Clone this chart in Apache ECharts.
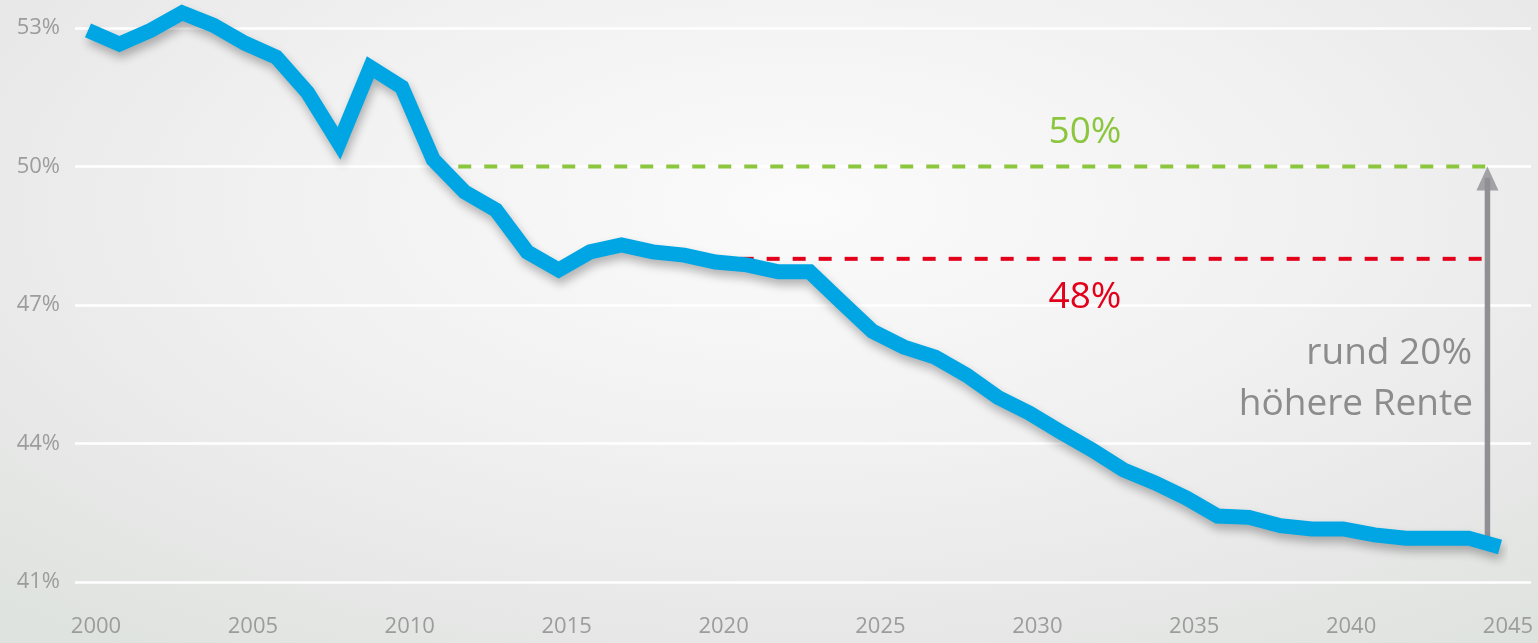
<!DOCTYPE html>
<html lang="de">
<head>
<meta charset="utf-8">
<title>Rentenniveau 2000–2045</title>
<script src="https://cdn.jsdelivr.net/npm/echarts@6/dist/echarts.min.js"></script>
<style>
  html, body { margin: 0; padding: 0; }
  body {
    width: 1538px; height: 643px; overflow: hidden;
    background: radial-gradient(ellipse 75% 85% at 52% 32%, #fbfbfb 0%, #f1f1f1 45%, #e6e7e6 80%, #dfe3df 100%);
  }
  #chart { width: 1538px; height: 643px; }
</style>
</head>
<body>
<div id="chart"></div>
<script>
// Rentenniveau (Sicherungsniveau vor Steuern) in Prozent, 2000–2045
const years = [
  2000, 2001, 2002, 2003, 2004, 2005, 2006, 2007, 2008, 2009,
  2010, 2011, 2012, 2013, 2014, 2015, 2016, 2017, 2018, 2019,
  2020, 2021, 2022, 2023, 2024, 2025, 2026, 2027, 2028, 2029,
  2030, 2031, 2032, 2033, 2034, 2035, 2036, 2037, 2038, 2039,
  2040, 2041, 2042, 2043, 2044, 2045
];
const pensionLevel = [
  52.95, 52.65, 52.95, 53.33, 53.06, 52.67, 52.37, 51.60, 50.50, 52.15,
  51.72, 50.15, 49.45, 49.06, 48.15, 47.76, 48.15, 48.30, 48.15, 48.08,
  47.93, 47.87, 47.72, 47.72, 47.07, 46.43, 46.09, 45.87, 45.48, 45.00,
  44.66, 44.25, 43.86, 43.43, 43.15, 42.82, 42.43, 42.40, 42.22, 42.15,
  42.15, 42.02, 41.95, 41.95, 41.95, 41.76
];

// Axis ranges and tick steps
const yearTicks = { min: 2000, max: 2045, step: 5 };
const percentTicks = { min: 41, max: 53, step: 3 };

// Haltelinien: 50 % (grün) und 48 % (rot)
const targetGreenLevel = 50;
const targetGreenYears = [2011.8, 2044.6];
const targetRedLevel = 48;
const targetRedYears = [2020.8, 2044.6];

// Pfeil "rund 20% höhere Rente": vom Endniveau bis zur 50-%-Linie
const arrowYear = 2044.6;
const arrowFrom = 41.95;
const arrowShaftTop = 49.75;
const arrowTip = 50;

// Beschriftungen
const labelGreen = '50%';
const labelRed = '48%';
const labelArrow = ['rund 20%', 'höhere Rente'];

const FONT = '"Open Sans", "Noto Sans", sans-serif';
const BLUE = '#00a6e4';
const GREEN = '#8cc63f';
const RED = '#e3001b';
const ARROW_GREY = '#8f8f94';
const TEXT_GREY = '#8c8c8c';
const AXIS_GREY = '#9c9c9c';

const chart = echarts.init(document.getElementById('chart'), null, { renderer: 'canvas' });

const toPairs = (xs, level) => xs.map(x => [x, level]);

// Free-standing annotation text, drawn on top of everything else
const note = (text, x, y, color, align) => ({
  type: 'text', x: x, y: y, z: 100, zlevel: 1, silent: true,
  style: {
    text: text, fill: color, font: '37px ' + FONT,
    align: align, verticalAlign: 'middle'
  }
});

chart.setOption({
  backgroundColor: 'transparent',
  animation: false,
  grid: [
    // plotting area for the series
    { left: 88, right: 38, top: 28, bottom: 61 },
    // wider area that carries the horizontal guide lines and percent labels
    { left: 75, right: 7, top: 28, bottom: 61 }
  ],
  xAxis: [
    {
      type: 'value', gridIndex: 0,
      min: yearTicks.min, max: yearTicks.max, interval: yearTicks.step,
      axisLine: { show: false }, axisTick: { show: false }, splitLine: { show: false },
      axisLabel: {
        color: AXIS_GREY, fontFamily: FONT, fontSize: 22, margin: 34,
        padding: [0, 0, 0, 16],
        formatter: v => String(v)
      }
    },
    {
      type: 'value', gridIndex: 1, min: 0, max: 1, show: false
    }
  ],
  yAxis: [
    {
      type: 'value', gridIndex: 0,
      min: percentTicks.min, max: percentTicks.max, interval: percentTicks.step,
      show: false
    },
    {
      type: 'value', gridIndex: 1,
      min: percentTicks.min, max: percentTicks.max, interval: percentTicks.step,
      axisLine: { show: false }, axisTick: { show: false },
      splitLine: { show: true, lineStyle: { color: '#ffffff', width: 2.5 } },
      axisLabel: {
        color: AXIS_GREY, fontFamily: FONT, fontSize: 22, margin: 15,
        padding: [0, 0, 11, 0],
        formatter: v => v + '%'
      }
    }
  ],
  series: [
    {
      name: 'Pfeilschaft', type: 'line', xAxisIndex: 0, yAxisIndex: 0,
      data: [[arrowYear, arrowFrom], [arrowYear, arrowShaftTop]],
      symbol: 'none', silent: true, z: 1,
      lineStyle: { color: ARROW_GREY, width: 5.5, cap: 'butt' }
    },
    {
      name: 'Pfeilspitze', type: 'scatter', xAxisIndex: 0, yAxisIndex: 0,
      data: [[arrowYear, arrowTip]],
      symbol: 'triangle', symbolSize: [22, 24], symbolOffset: [0, '50%'],
      silent: true, z: 1,
      itemStyle: { color: ARROW_GREY }
    },
    {
      name: 'Haltelinie 50%', type: 'line', xAxisIndex: 0, yAxisIndex: 0,
      data: toPairs(targetGreenYears, targetGreenLevel),
      symbol: 'none', silent: true, z: 1,
      lineStyle: { color: GREEN, width: 4, type: [13, 13] }
    },
    {
      name: 'Haltelinie 48%', type: 'line', xAxisIndex: 0, yAxisIndex: 0,
      data: toPairs(targetRedYears, targetRedLevel),
      symbol: 'none', silent: true, z: 1,
      lineStyle: { color: RED, width: 4, type: [13, 13] }
    },
    {
      name: 'Rentenniveau', type: 'line', xAxisIndex: 0, yAxisIndex: 0,
      data: years.map((y, i) => [y, pensionLevel[i]]),
      symbol: 'none', clip: false, z: 3, silent: true,
      lineStyle: {
        color: BLUE, width: 15, join: 'miter', cap: 'butt',
        shadowColor: 'rgba(0, 0, 0, 0.28)', shadowBlur: 10,
        shadowOffsetX: 2, shadowOffsetY: 6
      }
    }
  ],
  graphic: [
    note(labelGreen, 1085, 132, GREEN, 'center'),
    note(labelRed, 1085, 297, RED, 'center'),
    note(labelArrow[0], 1472, 353, TEXT_GREY, 'right'),
    note(labelArrow[1], 1473, 404, TEXT_GREY, 'right')
  ]
});
</script>
</body>
</html>
